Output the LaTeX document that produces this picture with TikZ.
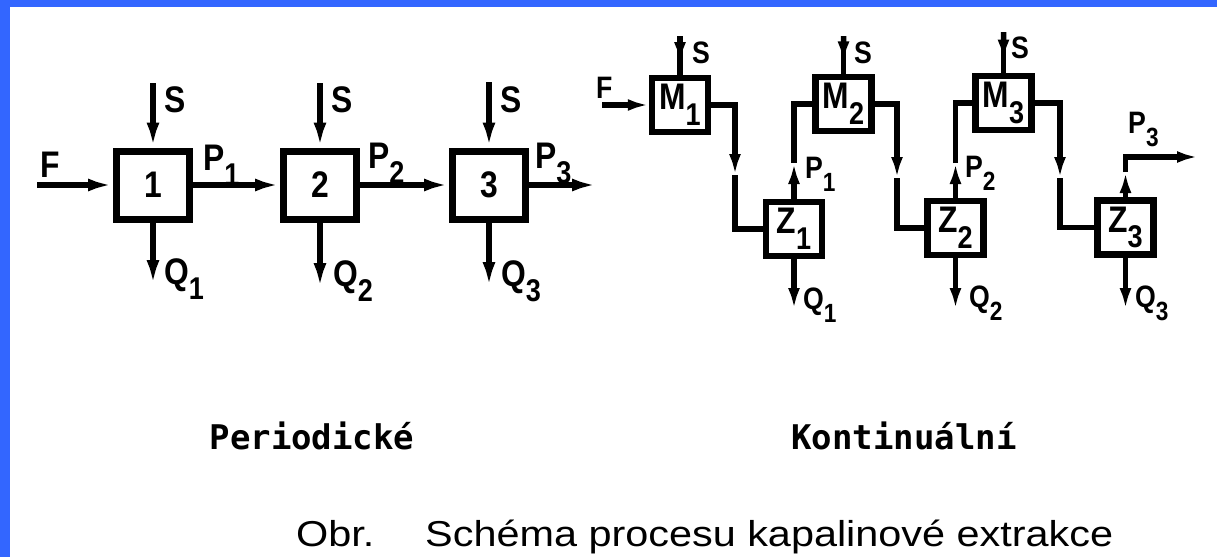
\documentclass[tikz,border=0pt]{standalone}
\usepackage{fontspec}
\setmainfont{Liberation Sans}
\newfontfamily\tech{Liberation Sans}[FakeStretch=0.86]
\newfontfamily\capfont{Liberation Sans}[FakeStretch=1.15]
\newfontfamily\monof{DejaVu Sans Mono}
\usetikzlibrary{arrows.meta,calc}
\definecolor{frameblue}{RGB}{51,102,255}
\newcommand\lsub[1]{\raisebox{-0.42em}{\scalebox{0.85}{#1}}}
\tikzset{
  bigbox/.style={draw, line width=7pt, minimum width=73pt, minimum height=68pt, inner sep=0pt,
    font=\tech\bfseries\fontsize{37}{37}\selectfont},
  smallbox/.style={draw, line width=6.5pt, minimum width=56pt, minimum height=54pt, inner sep=0pt,
    font=\tech\bfseries\fontsize{37}{37}\selectfont},
  connL/.style={line width=6pt},
  connR/.style={line width=5.5pt},
  arrL/.style={-{Latex[length=25pt,width=13pt]}},
  arrR/.style={-{Latex[length=21pt,width=12pt]}},
  lblL/.style={anchor=base west, inner sep=0pt, font=\tech\bfseries\fontsize{37}{37}\selectfont},
  lblR/.style={anchor=base west, inner sep=0pt, font=\tech\bfseries\fontsize{31}{31}\selectfont},
  title/.style={anchor=base, inner sep=0pt, font=\monof\bfseries\fontsize{34}{34}\selectfont},
  caption/.style={anchor=base west, inner sep=0pt, font=\capfont\fontsize{36}{36}\selectfont}
}
\begin{document}
\begin{tikzpicture}[x=1pt,y=-1pt]
\fill[frameblue] (0,0) rectangle (1217,557);
\fill[white] (10,7) rectangle (1217,557);
\useasboundingbox (0,0) rectangle (1217,557);

% ---------- Periodicke ----------
\node[bigbox] (b1) at (153,185) {1};
\node[bigbox] (b2) at (320,185) {2};
\node[bigbox] (b3) at (489,185) {3};
\coordinate (f0) at (37,185);
\coordinate (pend) at (597,185);
\coordinate (s1) at (153,83);
\coordinate (s2) at (320,83);
\coordinate (s3) at (489,82);
\coordinate (q1) at (153,285);
\coordinate (q2) at (320,288);
\coordinate (q3) at (489,287);

\draw[connL,arrL] (f0) -- (b1.west);
\draw[connL,arrL] (b1.east) -- (b2.west);
\draw[connL,arrL] (b2.east) -- (b3.west);
\draw[connL,arrL] (b3.east) -- (pend);
\foreach \i in {1,2,3}{
  \draw[connL,arrL] (s\i) -- (b\i.north);
  \draw[connL,arrL] (b\i.south) -- (q\i);
}
\node[lblL] (lF) at (40,177) {F};
\node[lblL] (lS1) at (164,112) {S};
\node[lblL] (lS2) at (331,112) {S};
\node[lblL] (lS3) at (500,112) {S};
\node[lblL] (lP1) at (203,170) {P\lsub{1}};
\node[lblL] (lP2) at (368,168) {P\lsub{2}};
\node[lblL] (lP3) at (535,168) {P\lsub{3}};
\node[lblL] (lQ1) at (164,284) {Q\lsub{1}};
\node[lblL] (lQ2) at (333,286) {Q\lsub{2}};
\node[lblL] (lQ3) at (501,286) {Q\lsub{3}};

% ---------- Kontinualni ----------
\node[smallbox] (M1) at (680,105) {M\lsub{1}};
\node[smallbox] (M2) at (843.5,104) {M\lsub{2}};
\node[smallbox] (M3) at (1003.5,103) {M\lsub{3}};
\node[smallbox] (Z1) at (794,229) {Z\lsub{1}};
\node[smallbox] (Z2) at (955.5,228) {Z\lsub{2}};
\node[smallbox] (Z3) at (1125.5,227.5) {Z\lsub{3}};

\coordinate (fr) at (602,105);
\coordinate (sM1) at (680,36);
\coordinate (sM2) at (843.5,36);
\coordinate (sM3) at (1003.5,32);
\coordinate (j1) at (735,175);
\coordinate (j2) at (897,178);
\coordinate (j3) at (1060,178);
\coordinate (k1) at (794,163);
\coordinate (k2) at (955.5,163);
\coordinate (k3) at (1125.5,172);
\coordinate (p3r) at (1198,157);
\coordinate (qr1) at (794,309);
\coordinate (qr2) at (955.5,309);
\coordinate (qr3) at (1125.5,309);

\draw[connR,arrR] (fr) -- (M1.west);
\foreach \i in {1,2,3}{
  \draw[connR] (sM\i) -- (M\i.north);
  \draw[connR,arrR] (sM\i) -- ($(sM\i)!0.7!(M\i.north)$);
  \draw[connR,arrR] (Z\i.south) -- (qr\i);
}
\draw[connR,arrR] (M1.east) -| (j1);
\draw[connR] (j1) |- (Z1.west);
\draw[connR,arrR] (Z1.north) -- (k1);
\draw[connR] (k1) |- (M2.west);
\draw[connR,arrR] (M2.east) -| (j2);
\draw[connR] (j2) |- (Z2.west);
\draw[connR,arrR] (Z2.north) -- (k2);
\draw[connR] (k2) |- (M3.west);
\draw[connR,arrR] (M3.east) -| (j3);
\draw[connR] (j3) |- (Z3.west);
\draw[connR,arrR] (Z3.north) -- (k3);
\draw[connR,arrR] (k3) |- (p3r);

\node[lblR] (rF) at (596,98) {F};
\node[lblR] (rS1) at (692,63) {S};
\node[lblR] (rS2) at (854,63) {S};
\node[lblR] (rS3) at (1011,58) {S};
\node[lblR] (rP1) at (805,178) {P\lsub{1}};
\node[lblR] (rP2) at (965,177) {P\lsub{2}};
\node[lblR] (rP3) at (1128,133) {P\lsub{3}};
\node[lblR] (rQ1) at (803,309) {Q\lsub{1}};
\node[lblR] (rQ2) at (969,307) {Q\lsub{2}};
\node[lblR] (rQ3) at (1135,307) {Q\lsub{3}};

% ---------- titles ----------
\node[title] (tP) at (312,449) {Periodické};
\node[title] (tK) at (904,449) {Kontinuální};
\node[caption] (c1) at (296,546) {Obr.};
\node[caption] (c2) at (425,546) {Schéma procesu kapalinové extrakce};
\end{tikzpicture}
\end{document}
